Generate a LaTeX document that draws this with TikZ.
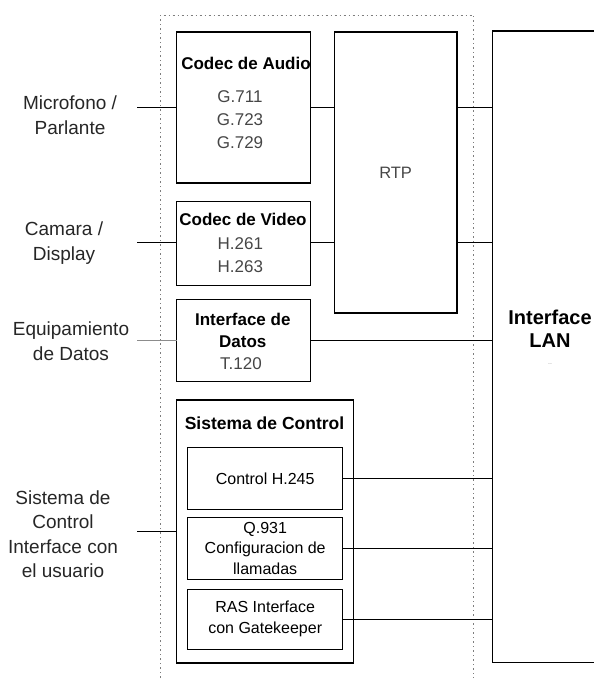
\documentclass[tikz,border=0pt]{standalone}
\usepackage{fontspec}
\setmainfont{Liberation Sans}
\definecolor{codegray}{RGB}{70,70,70}
\definecolor{framegray}{RGB}{125,125,125}
\definecolor{wiregray}{RGB}{140,140,140}
\tikzset{
  blk/.style={draw, line width=1.1pt, inner sep=0pt, outer sep=0pt},
  subblk/.style={draw, line width=0.8pt, inner sep=0pt, outer sep=0pt, minimum width=155pt,
    font=\fontsize{16}{20.5}\selectfont, align=center},
  ttl/.style={font=\fontsize{17}{22}\selectfont\bfseries, align=center, inner sep=0pt},
  codes/.style={font=\fontsize{17}{23}\selectfont, text=codegray, align=center, inner sep=0pt},
  side/.style={font=\fontsize{19}{24.5}\selectfont, text=black!85, align=center, inner sep=0pt},
  wire/.style={line width=1pt},
  frame/.style={draw=framegray, line width=1pt, dash pattern=on 2pt off 3pt on 1pt off 3pt}
}
\begin{document}
\begin{tikzpicture}[x=1pt,y=-1pt]
\useasboundingbox (0,0) rectangle (594,678);
% dotted terminal frame
\draw[frame] (160.7,678) -- (160.7,15) -- (473.7,15) -- (473.7,678);
% blocks
\node[blk, minimum width=134pt, minimum height=151pt] (audio) at (243.7,107.5) {};
\node[blk, minimum width=122.7pt, minimum height=281pt, font=\fontsize{16.5}{20}\selectfont, text=codegray] (rtp) at (395.6,172.5) {RTP};
\node[blk, minimum width=133.3pt, minimum height=84.7pt] (video) at (243.4,243.4) {};
\node[blk, minimum width=134pt, minimum height=82.7pt] (datos) at (243.7,340.4) {};
\node[blk, minimum width=176.6pt, minimum height=263pt] (control) at (265,531.5) {};
\node[subblk, minimum height=61.3pt] (h245) at (265.2,478.4) {Control H.245};
\node[subblk, minimum height=61.3pt] (q931) at (265.2,548.4) {Q.931\\Configuracion de\\llamadas};
\node[subblk, minimum height=60pt] (ras) at (265.2,619) {RAS Interface\\con Gatekeeper};
\node[inner sep=0pt, outer sep=0pt, minimum width=101.7pt, minimum height=631.7pt] (lan) at (543.15,346.85) {};
\draw[line width=1.2pt] (lan.north east) -- (lan.north west) -- (lan.south west) -- (lan.south east);
% texts in the blocks
\node[ttl] (audioTitle) at (246,63) {Codec de Audio};
\node[codes] (audioCodecs) at (240,120) {G.711\\G.723\\G.729};
\node[ttl] (videoTitle) at (243,219) {Codec de Video};
\node[codes] (videoCodecs) at (240.3,255) {H.261\\H.263};
\node[ttl] (datosTitle) at (242.8,330) {Interface de\\Datos};
\node[codes] (datosCode) at (241,364) {T.120};
\node[ttl, font=\fontsize{17.5}{22}\selectfont\bfseries] (controlTitle) at (264.5,423) {Sistema de Control};
\node[font=\fontsize{20}{23}\selectfont\bfseries, align=center, inner sep=0pt] (lanLabel) at (550,328.5) {Interface\\LAN};
\node[font=\fontsize{7}{8}\selectfont, text=black!40, inner sep=0pt] (lanDots) at (550,364) {..};
% outside devices
\node[side] (mic) at (70,115.2) {Microfono /\\Parlante};
\node[side] (cam) at (64,243) {Camara /\\Display};
\node[side] (equip) at (71,341) {Equipamiento\\de Datos};
\node[side] (user) at (63,534) {Sistema de\\Control\\Interface con\\el usuario};
\coordinate (micEnd) at (137,107.5);
\coordinate (camEnd) at (137,242);
\coordinate (equipEnd) at (137,340.4);
\coordinate (userEnd) at (137,531.5);
% connections
\draw[wire] (micEnd) -- (audio.west);
\draw[wire] (audio.east) -- (audio.east -| rtp.west);
\draw[wire] (rtp.east |- audio.east) -- (lan.west |- audio.east);
\draw[wire] (camEnd) -- (camEnd -| video.west);
\draw[wire] (video.east |- camEnd) -- (rtp.west |- camEnd);
\draw[wire] (rtp.east |- camEnd) -- (lan.west |- camEnd);
\draw[wire, wiregray] (equipEnd) -- (datos.west);
\draw[wire] (datos.east) -- (datos.east -| lan.west);
\draw[wire] (userEnd) -- (control.west);
\draw[wire] (h245.east) -- (h245.east -| lan.west);
\draw[wire] (q931.east) -- (q931.east -| lan.west);
\draw[wire] (ras.east) -- (ras.east -| lan.west);
\end{tikzpicture}
\end{document}
